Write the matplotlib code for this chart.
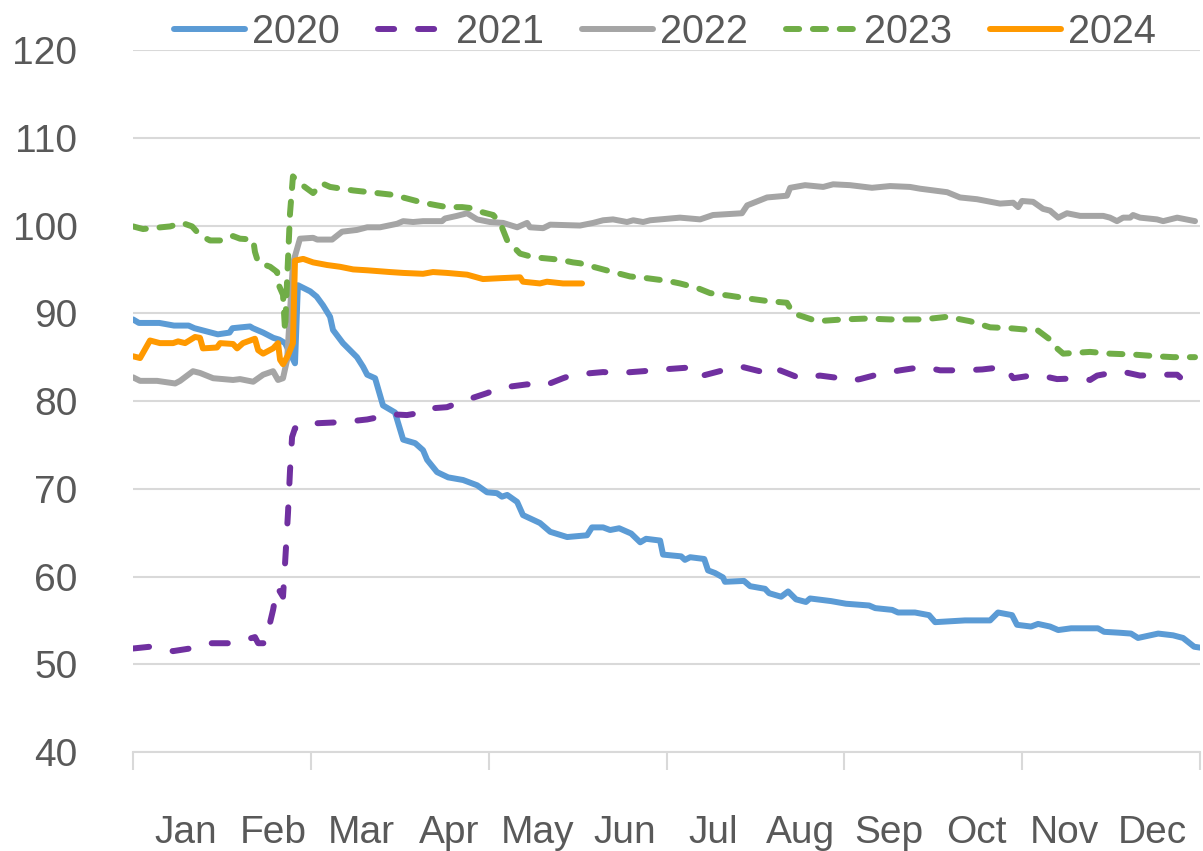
import matplotlib
matplotlib.use('Agg')
import matplotlib.pyplot as plt
import numpy as np

plt.rcParams['font.family'] = ['Liberation Sans', 'DejaVu Sans']

# day of year / index level
days_2020 = [0, 2, 9, 14, 19, 21, 29, 33, 34, 40, 41, 44.5, 48, 50, 52, 55.4, 56.4, 60.6,
             62.8, 65, 67.4, 68.4, 71.8, 76.6, 78.7, 80.1, 82.8, 85.5, 89.6, 92.4, 96.5,
             99.2, 100.6, 104, 107.8, 112.9, 117.7, 121.1, 124.5, 126.2, 128, 131.4,
             133.4, 139.2, 142.7, 148.5, 155.3, 157, 160.8, 163.2, 166.3, 170.4, 173.5,
             175.5, 180.3, 181.3, 187.5, 188.8, 190.6, 195.4, 196.7, 199.1, 201.8, 202.5,
             209, 211.1, 216.2, 217.6, 221.7, 224.1, 226.8, 230.2, 231.6, 238.8, 243.9,
             251.8, 253.9, 259.7, 261.7, 267.5, 272.3, 274.4, 284.6, 293.2, 295.9, 300.7,
             302.4, 307.2, 309.6, 313.7, 316.5, 320.9, 330.1, 332.2, 337.3, 341.4, 343.8,
             350.7, 355.8, 359.2, 363, 365]
vals_2020 = [89.3, 88.9, 88.9, 88.6, 88.6, 88.3, 87.6, 87.8, 88.3, 88.5, 88.3, 87.8, 87.2,
             87.0, 86.6, 84.3, 93.2, 92.5, 91.9, 90.9, 89.6, 88.1, 86.6, 85.0, 83.9, 83.0,
             82.6, 79.5, 78.7, 75.6, 75.2, 74.4, 73.3, 71.9, 71.3, 71.0, 70.4, 69.6, 69.5,
             69.1, 69.3, 68.5, 67.0, 66.1, 65.1, 64.5, 64.7, 65.6, 65.6, 65.3, 65.5, 64.9,
             63.9, 64.3, 64.1, 62.5, 62.3, 61.9, 62.2, 62.0, 60.7, 60.4, 59.9, 59.4, 59.5,
             58.9, 58.6, 58.1, 57.7, 58.3, 57.4, 57.1, 57.5, 57.2, 56.9, 56.7, 56.4, 56.2,
             55.9, 55.9, 55.6, 54.8, 55.0, 55.0, 55.9, 55.6, 54.5, 54.3, 54.6, 54.3, 53.9,
             54.1, 54.1, 53.7, 53.6, 53.5, 53.0, 53.5, 53.3, 53.0, 52.0, 51.9]

days_2021 = [0, 5.8, 13.7, 19.5, 26.3, 33.2, 40.7, 41.7, 42.8, 45.2, 47.9, 49.3, 51.3, 52.0,
             53.0, 53.7, 54.4, 55.4, 57.1, 58.2, 65.0, 71.8, 80.1, 84.5, 87.9, 93.7, 97.2,
             99.2, 107.4, 112.9, 121.1, 125.6, 134.8, 140.3, 147.1, 150.5, 160.8, 166.6,
             174.5, 181.3, 189.5, 192.6, 201.8, 208.3, 215.5, 219.0, 221.3, 228.2, 235.0,
             241.9, 245.3, 248.7, 255.6, 262.4, 270.3, 276.1, 284.0, 290.5, 298.3, 301.1,
             309.3, 316.1, 324.0, 327.4, 329.8, 337.7, 344.5, 351.3, 357.2, 358.2]
vals_2021 = [51.8, 52.0, 51.5, 51.8, 52.4, 52.4, 53.0, 53.1, 52.4, 52.4, 56.2, 58.8, 57.7,
             61.5, 67.2, 72.1, 75.9, 76.9, 77.0, 77.4, 77.5, 77.6, 77.9, 78.2, 78.5, 78.4,
             78.6, 79.1, 79.3, 80.0, 80.9, 81.5, 81.9, 81.7, 82.6, 83.0, 83.3, 83.2, 83.4,
             83.6, 83.8, 82.7, 83.5, 83.9, 83.3, 84.0, 83.5, 82.6, 82.9, 82.6, 82.3, 82.5,
             83.1, 83.5, 83.9, 83.5, 83.5, 83.6, 83.9, 82.6, 83.0, 82.5, 82.6, 82.4, 82.9,
             83.4, 82.9, 83.0, 83.0, 82.7]

days_2022 = [0, 2.4, 8.2, 14.4, 16.1, 20.5, 22.9, 27.4, 30.8, 34.2, 36.6, 41.1, 44.5, 47.9,
             49.6, 51.3, 52.7, 54.7, 57.1, 61.6, 63.0, 68.1, 71.5, 76.6, 80.1, 84.5, 90.3,
             92.4, 95.8, 99.2, 105.7, 106.7, 110.8, 114.3, 117.7, 122.1, 126.6, 131.4,
             134.8, 135.8, 140.3, 142.7, 152.9, 157.4, 160.8, 164.2, 169.0, 171.1, 174.5,
             176.9, 187.1, 194.0, 198.4, 208.3, 210.1, 216.9, 223.7, 224.8, 229.9, 236.1,
             239.5, 245.3, 252.8, 259.0, 265.8, 269.2, 278.5, 282.9, 288.7, 296.6, 301.1,
             302.8, 304.1, 307.9, 311.3, 313.7, 316.5, 319.5, 324.0, 331.9, 334.2, 336.6,
             338.7, 341.1, 342.1, 344.5, 350.3, 352.4, 357.2, 363.3]
vals_2022 = [82.7, 82.3, 82.3, 82.0, 82.3, 83.4, 83.2, 82.6, 82.5, 82.4, 82.5, 82.2, 83.0,
             83.4, 82.4, 82.6, 84.7, 95.7, 98.5, 98.6, 98.4, 98.4, 99.3, 99.5, 99.8, 99.8,
             100.2, 100.5, 100.4, 100.5, 100.5, 100.8, 101.1, 101.4, 100.7, 100.4, 100.3,
             99.8, 100.3, 99.8, 99.7, 100.1, 100.0, 100.3, 100.6, 100.7, 100.4, 100.6,
             100.4, 100.6, 100.9, 100.7, 101.2, 101.4, 102.3, 103.2, 103.4, 104.3, 104.6,
             104.4, 104.7, 104.6, 104.3, 104.5, 104.4, 104.2, 103.8, 103.2, 103.0, 102.5,
             102.6, 102.1, 102.8, 102.7, 101.9, 101.7, 100.9, 101.4, 101.1, 101.1, 100.9,
             100.5, 100.9, 100.9, 101.2, 100.9, 100.7, 100.5, 100.9, 100.5]

days_2023 = [0, 3.4, 12.7, 16.8, 20.2, 22.9, 26.3, 30.8, 34.2, 36.6, 41.1, 41.7, 42.8, 46.9,
             49.3, 49.6, 51.3, 52.0, 52.7, 53.7, 54.7, 57.1, 61.6, 64.7, 67.4, 75.3, 83.5,
             88.9, 95.8, 99.2, 104.0, 107.4, 112.6, 115.3, 119.7, 123.2, 125.6, 128.0,
             132.4, 136.8, 146.1, 150.5, 152.9, 157.4, 164.2, 170.0, 175.8, 182.7, 187.1,
             192.9, 197.4, 204.2, 210.1, 216.9, 223.7, 225.8, 234.0, 242.9, 251.1, 259.0,
             270.3, 278.5, 286.3, 293.2, 300.0, 306.9, 309.3, 313.7, 316.1, 318.2, 327.4,
             334.2, 342.1, 350.3, 355.8, 363.3]
vals_2023 = [99.9, 99.6, 99.9, 100.3, 99.9, 98.9, 98.3, 98.3, 98.8, 98.5, 98.4, 97.0, 95.8,
             95.3, 94.7, 93.4, 92.1, 88.0, 93.8, 101.4, 105.6, 104.8, 103.7, 104.8, 104.4,
             104.0, 103.7, 103.5, 102.9, 102.6, 102.3, 102.1, 102.1, 102.0, 101.5, 101.2,
             100.3, 98.3, 96.8, 96.4, 96.1, 95.8, 95.7, 95.3, 94.7, 94.2, 94.0, 93.7, 93.4,
             92.9, 92.3, 92.0, 91.7, 91.4, 91.2, 90.0, 89.1, 89.3, 89.4, 89.3, 89.3, 89.6,
             89.1, 88.4, 88.3, 88.1, 88.1, 87.0, 86.0, 85.4, 85.6, 85.4, 85.3, 85.1, 85.0,
             85.0]

days_2024 = [0, 2.4, 5.8, 9.2, 13.7, 15.4, 17.8, 21.2, 22.9, 23.9, 28.7, 29.8, 34.2, 35.6,
             37.6, 41.7, 42.8, 44.5, 47.9, 49.6, 50.3, 51.3, 53.0, 54.7, 55.4, 58.2, 61.6,
             66.4, 70.8, 75.3, 80.1, 87.9, 92.4, 99.2, 102.6, 107.4, 114.3, 119.7, 125.6,
             132.4, 133.4, 139.2, 141.6, 147.1, 153.6]
vals_2024 = [85.1, 84.9, 86.9, 86.6, 86.6, 86.8, 86.6, 87.3, 87.2, 86.0, 86.1, 86.6, 86.5,
             86.0, 86.6, 87.1, 85.8, 85.4, 86.0, 86.6, 84.7, 84.2, 85.2, 86.6, 96.0, 96.2,
             95.8, 95.5, 95.3, 95.0, 94.9, 94.7, 94.6, 94.5, 94.7, 94.6, 94.4, 93.9, 94.0,
             94.1, 93.6, 93.4, 93.6, 93.4, 93.4]

months = ['Jan', 'Feb', 'Mar', 'Apr', 'May', 'Jun',
          'Jul', 'Aug', 'Sep', 'Oct', 'Nov', 'Dec']
y_ticks = [40, 50, 60, 70, 80, 90, 100, 110, 120]

TEXT = '#595959'
GRID = '#D9D9D9'
LW = 4.3

fig = plt.figure(figsize=(12.03, 8.51), dpi=100)
ax = fig.add_axes([0.1106, 0.1163, 0.8869, 0.8249])

ax.plot(days_2020, vals_2020, color='#5B9BD5', lw=LW, label='2020',
        solid_joinstyle='round', solid_capstyle='round')
ax.plot(days_2021, vals_2021, color='#7030A0', lw=LW, label='2021',
        dashes=(2.7, 4.0), dash_capstyle='round', dash_joinstyle='round')
ax.plot(days_2022, vals_2022, color='#A5A5A5', lw=LW, label='2022',
        solid_joinstyle='round', solid_capstyle='round')
ax.plot(days_2023, vals_2023, color='#70AD47', lw=LW, label='2023',
        dashes=(2.2, 2.3), dash_capstyle='round', dash_joinstyle='round')
ax.plot(days_2024, vals_2024, color='#FF9900', lw=LW, label='2024',
        solid_joinstyle='round', solid_capstyle='round')

ax.set_xlim(0, 365)
ax.set_ylim(40, 120)
ax.set_yticks(y_ticks)
ax.grid(axis='y', color=GRID, lw=1.5)
ax.set_axisbelow(True)

# tick marks every two months, month names in between
ax.set_xticks(np.linspace(0, 365, 7))
ax.set_xticklabels([])
ax.set_xticks(18 + 30.07 * np.arange(12), minor=True)
ax.set_xticklabels(months, minor=True)
ax.tick_params(axis='x', which='major', length=13, width=1.5, color=GRID, direction='out')
ax.tick_params(axis='x', which='minor', length=0, pad=45, labelsize=28, labelcolor=TEXT)
ax.tick_params(axis='y', length=0, pad=40, labelsize=28, labelcolor=TEXT)

for side in ['top', 'right', 'left']:
    ax.spines[side].set_visible(False)
ax.spines['bottom'].set_color(GRID)
ax.spines['bottom'].set_linewidth(1.5)

leg = ax.legend(loc='center', bbox_to_anchor=(0.4985, 1.026), ncol=5, frameon=False,
                fontsize=28.5, handlelength=1.8, handletextpad=0.18, columnspacing=0.95,
                borderaxespad=0, borderpad=0)
for t in leg.get_texts():
    t.set_color(TEXT)

fig.savefig('out.png', dpi=100)
